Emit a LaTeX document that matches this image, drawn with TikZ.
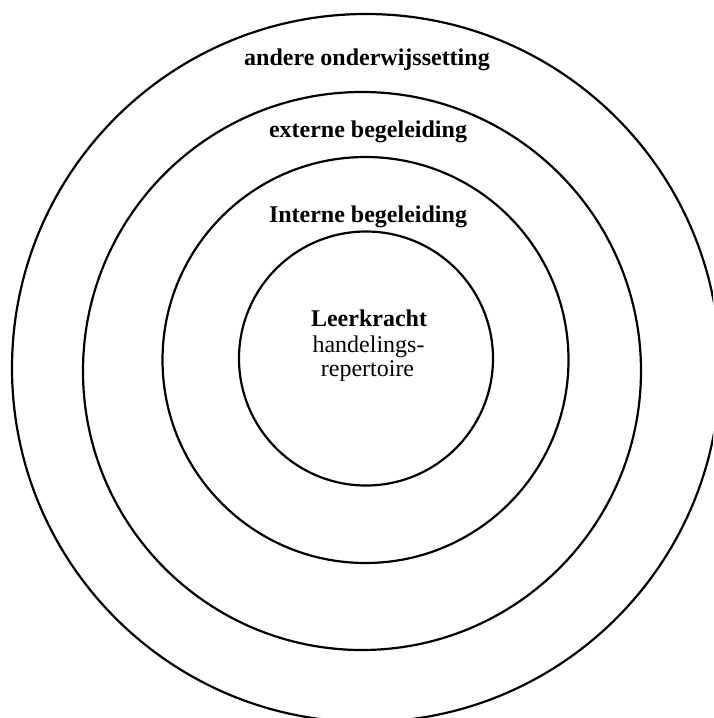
\documentclass[tikz,border=0pt]{standalone}
\usepackage{fontspec}
\setmainfont{Liberation Serif}
\begin{document}
\begin{tikzpicture}[x=0.5pt,y=-0.5pt,
  ring/.style={draw=black,line width=1.1pt},
  lbl/.style={anchor=base,inner sep=0pt,font=\fontsize{12pt}{14pt}\selectfont\bfseries},
  txt/.style={anchor=base,inner sep=0pt,font=\fontsize{12pt}{14pt}\selectfont}]
\useasboundingbox (0,0) rectangle (713,718);
\fill[white] (0,0) rectangle (713,718);
\begin{scope}
\clip (0,0) rectangle (713,718);
\draw[ring] (366,368) circle [radius=354];
\draw[ring] (362,371) circle [radius=279];
\draw[ring] (365.5,360) circle [radius=203];
\draw[ring] (366,358.5) circle [radius=127];
\end{scope}
\node[lbl] (outer) at (367,65) {andere onderwijssetting};
\node[lbl] (ext) at (368,137) {externe begeleiding};
\node[lbl] (int) at (368,222) {Interne begeleiding};
\node[lbl] (lk) at (369,326) {Leerkracht};
\node[txt] (hand) at (368.5,352) {handelings-};
\node[txt] (rep) at (367.5,376) {repertoire};
\end{tikzpicture}
\end{document}
